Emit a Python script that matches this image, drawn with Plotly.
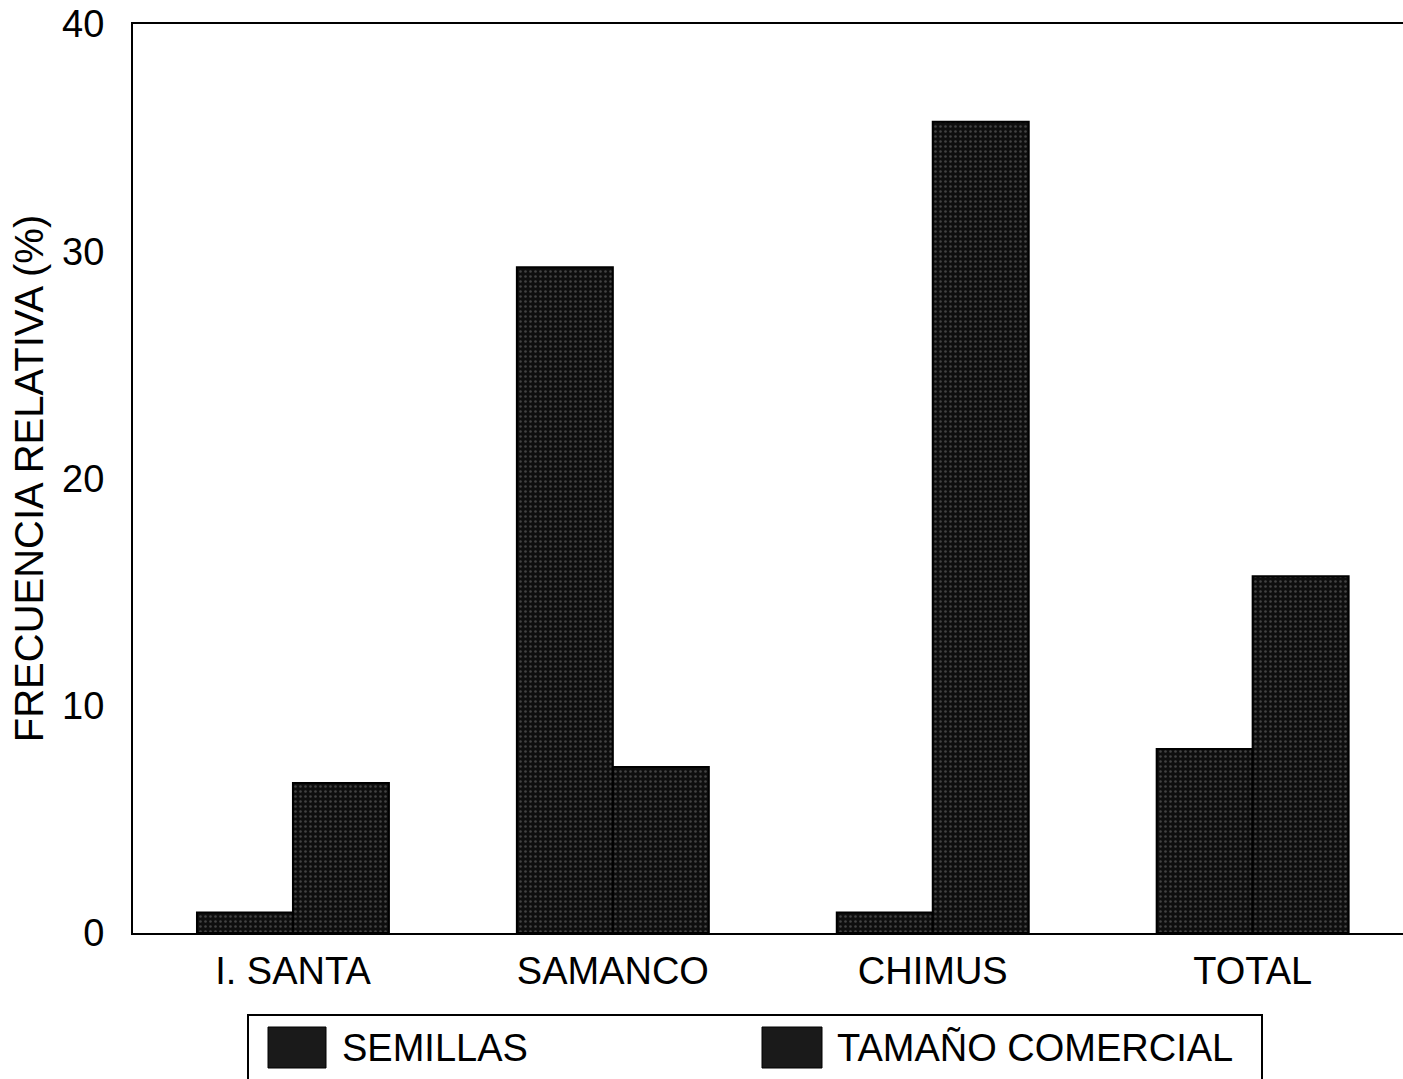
import plotly.graph_objects as go

categories = ["I. SANTA", "SAMANCO", "CHIMUS", "TOTAL"]
semillas = [0.9, 29.3, 0.9, 8.1]
tamano_comercial = [6.6, 7.3, 35.7, 15.7]
series_names = ["SEMILLAS", "TAMAÑO COMERCIAL"]
y_ticks = [0, 10, 20, 30, 40]

FONT = "Liberation Sans, Arial, sans-serif"
W, H = 1403, 1079
L, R, T, B = 133, 0, 24, 146
PW, PH = W - L - R, H - T - B


def px_x(px):
    return (px - L) / PW


def px_y(py):
    return (H - B - py) / PH


pattern = dict(shape=".", fgcolor="#777777", bgcolor="#0e0e0e", size=5, solidity=0.2)

fig = go.Figure()
for name, vals in zip(series_names, [semillas, tamano_comercial]):
    fig.add_trace(go.Bar(
        x=categories, y=vals, name=name,
        marker=dict(color="#0e0e0e", pattern=pattern, line=dict(color="#000000", width=2)),
        showlegend=False,
    ))

fig.update_layout(
    width=W, height=H,
    margin=dict(l=L, r=R, t=T, b=B, pad=0),
    paper_bgcolor="white", plot_bgcolor="white",
    barmode="group", bargap=0.4, bargroupgap=0,
    font=dict(family=FONT, size=38, color="black"),
)
fig.update_xaxes(
    type="category", range=[-0.5, 3.47], automargin=False,
    showline=True, linecolor="black", linewidth=2, mirror=True,
    showgrid=False, ticks="", ticklabelstandoff=3,
    tickfont=dict(family=FONT, size=38, color="black"),
)
fig.update_yaxes(
    range=[0, 40], tickvals=y_ticks, automargin="left",
    showline=True, linecolor="black", linewidth=2, mirror=False,
    showgrid=False, zeroline=False, ticks="", ticklabelstandoff=19,
    ticklabeloverflow="allow",
    tickfont=dict(family=FONT, size=38, color="black"),
    title=dict(text="FRECUENCIA RELATIVA (%)", standoff=6,
               font=dict(family=FONT, size=40, color="black")),
)

# Legend box drawn manually (large swatches as in the original)
shapes = [
    dict(type="rect", xref="paper", yref="paper",
         x0=px_x(248), x1=px_x(1262), y0=px_y(1015), y1=px_y(1095),
         line=dict(color="black", width=2), fillcolor="rgba(0,0,0,0)"),
    dict(type="rect", xref="paper", yref="paper",
         x0=px_x(268), x1=px_x(326), y0=px_y(1027), y1=px_y(1068),
         line=dict(color="black", width=1), fillcolor="#1a1a1a"),
    dict(type="rect", xref="paper", yref="paper",
         x0=px_x(762), x1=px_x(822), y0=px_y(1027), y1=px_y(1068),
         line=dict(color="black", width=1), fillcolor="#1a1a1a"),
]
annotations = [
    dict(text=series_names[0], xref="paper", yref="paper",
         x=px_x(340), y=px_y(1048), xanchor="left", yanchor="middle",
         showarrow=False, font=dict(family=FONT, size=38, color="black")),
    dict(text=series_names[1], xref="paper", yref="paper",
         x=px_x(835), y=px_y(1048), xanchor="left", yanchor="middle",
         showarrow=False, font=dict(family=FONT, size=38, color="black")),
]
fig.update_layout(shapes=shapes, annotations=annotations)

fig.write_html(
    "out.html",
    config={"displayModeBar": False},
    post_script="document.body.style.margin='0';document.body.style.overflow='hidden';",
)
